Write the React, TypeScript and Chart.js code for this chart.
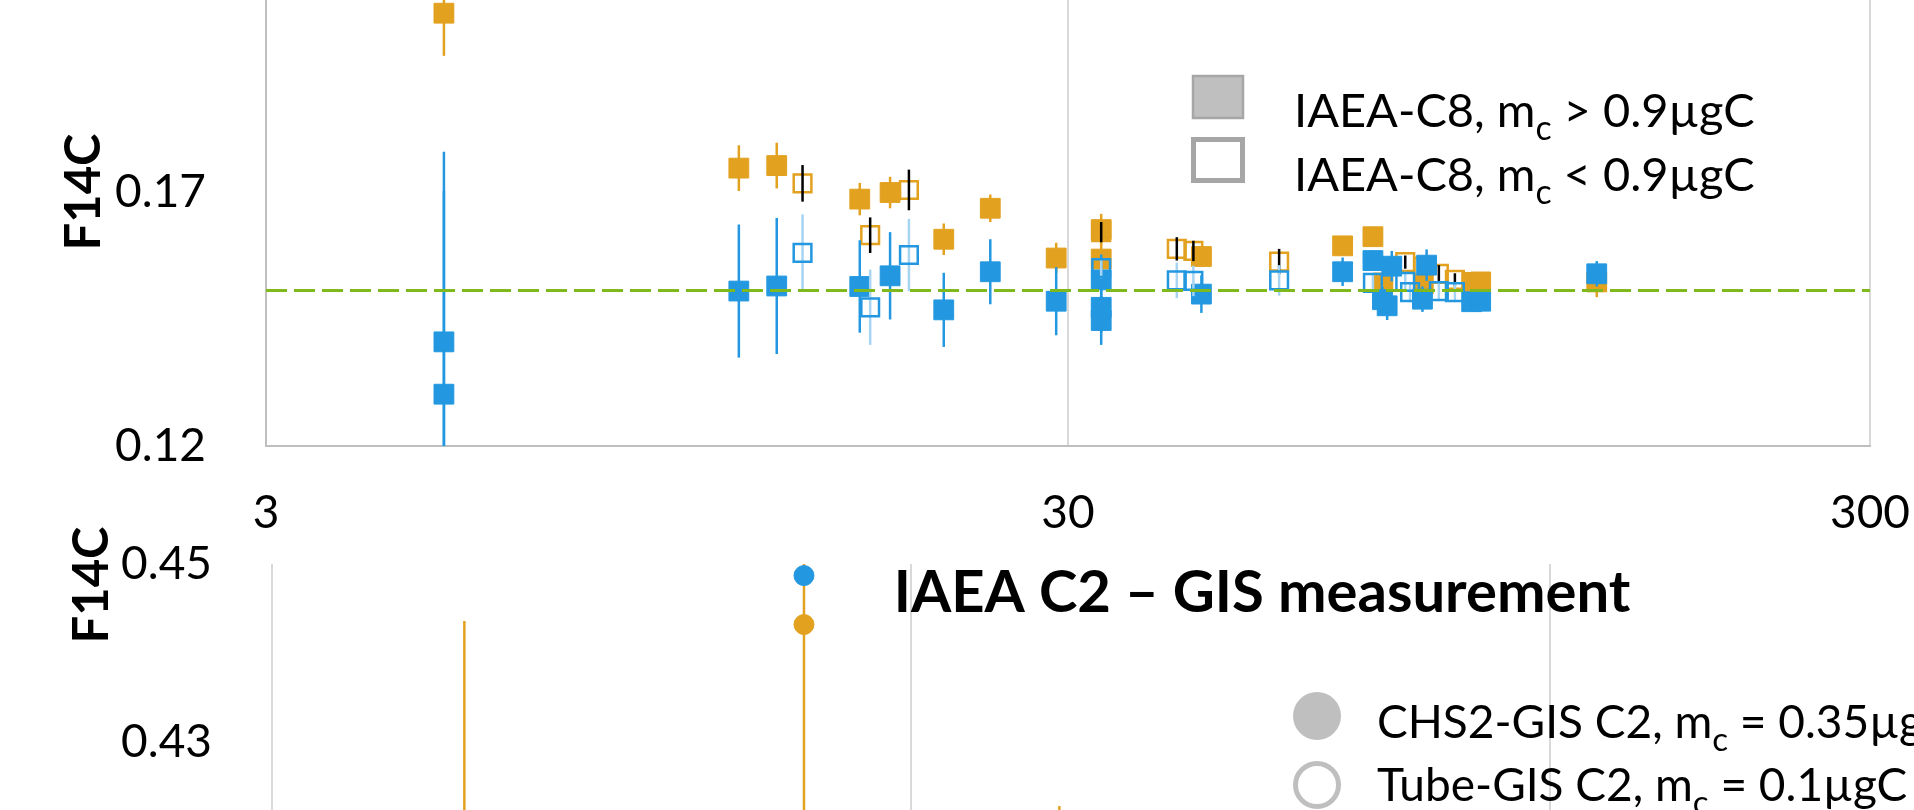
import React, { useEffect, useRef } from 'react';
import { Chart, registerables } from 'chart.js';

Chart.register(...registerables);

const FONT = 'Lato, "Open Sans", sans-serif';

// ---------------- Top panel: IAEA-C8 ----------------
const c8XTicks = [3, 30, 300];
const c8YTicks = [0.12, 0.17, 0.22];
const c8Reference = 0.1506;

const orangeFilledX = [5.0, 11.66, 13.0, 16.5, 18.0, 21.0, 24.0, 29.0, 33.0, 33.0, 44.0, 66.0, 72.0, 74.1, 83.2, 95.6, 98.1, 136.9];
const orangeFilledY = [0.2052, 0.1747, 0.1752, 0.1686, 0.1699, 0.1607, 0.1668, 0.157, 0.1626, 0.1568, 0.1573, 0.1594, 0.1612, 0.1521, 0.1519, 0.1522, 0.1523, 0.1523];
const orangeFilledErr = [0.0084, 0.0045, 0.0045, 0.0032, 0.0031, 0.0031, 0.0027, 0.003, 0.0031, 0.003, 0.002, 0.0015, 0.0015, 0.0015, 0.0015, 0.0012, 0.0012, 0.003];

const blueFilledX = [5.0, 5.0, 11.66, 13.0, 16.5, 18.0, 21.0, 24.0, 29.0, 33.0, 33.0, 33.0, 44.0, 66.0, 72.0, 74.0, 75.0, 76.0, 83.0, 84.0, 95.6, 98.1, 136.9];
const blueFilledY = [0.1405, 0.1302, 0.1505, 0.1515, 0.1514, 0.1535, 0.1468, 0.1543, 0.1485, 0.1527, 0.1473, 0.1447, 0.1499, 0.1543, 0.1565, 0.1488, 0.1476, 0.1554, 0.1489, 0.1556, 0.1484, 0.1485, 0.1539];
const blueFilledErr = [0.0374, 0.04, 0.0131, 0.0134, 0.0091, 0.0086, 0.0073, 0.0064, 0.0067, 0.005, 0.005, 0.0048, 0.0037, 0.0028, 0.002, 0.0025, 0.0028, 0.003, 0.0025, 0.0031, 0.0012, 0.0012, 0.0025];

const orangeOpenX = [14.0, 17.0, 19.0, 33.0, 41.0, 43.0, 55.0, 79.0, 83.2, 87.0, 91.1];
const orangeOpenY = [0.1717, 0.1615, 0.1704, 0.1621, 0.1588, 0.1584, 0.1563, 0.1562, 0.1553, 0.1539, 0.1527];
const orangeOpenErr = [0.0036, 0.0035, 0.004, 0.002, 0.0023, 0.002, 0.0025, 0.0013, 0.0015, 0.0017, 0.0013];

const blueOpenX = [14.0, 17.0, 19.0, 33.0, 41.0, 43.0, 55.0, 72.0, 79.0, 80.1, 87.0, 91.1];
const blueOpenY = [0.158, 0.1473, 0.1576, 0.155, 0.1526, 0.1525, 0.1526, 0.1521, 0.1523, 0.1503, 0.1505, 0.1503];
const blueOpenErr = [0.0076, 0.0074, 0.0071, 0.002, 0.0035, 0.003, 0.003, 0.002, 0.002, 0.002, 0.002, 0.002];

// ---------------- Bottom panel: IAEA C2 ----------------
const c2XTicks = [3, 30, 300, 3000];
const c2YTicks = [0.37, 0.39, 0.41, 0.43, 0.45];
const c2OrangeX = [6.0, 20.4, 51.2];
const c2OrangeY = [0.41, 0.4432, 0.41];
const c2OrangeErr = [0.0336, 0.03, 0.0128];
const c2BlueX = [20.4];
const c2BlueY = [0.4487];
const c2BlueErr = [0.0008];

const ORANGE = '#E2A11F';
const BLUE = '#2398E0';
const LIGHTBLUE = '#A6D4F2';
const GREEN = '#80B91E';

const pts = (xs: number[], ys: number[]) => xs.map((x, i) => ({ x, y: ys[i] }));

function drawErr(chart: any, index: number, phase: string) {
  const ds = chart.data.datasets[index];
  if (!ds.errors || (ds.errorLayer || 'before') !== phase) return;
  const xs = chart.scales.x;
  const ys = chart.scales.y;
  const ctx = chart.ctx as CanvasRenderingContext2D;
  const a = chart.chartArea;
  ctx.save();
  ctx.beginPath();
  ctx.rect(a.left, a.top, a.right - a.left, a.bottom - a.top);
  ctx.clip();
  ctx.strokeStyle = ds.errorColor;
  ctx.lineWidth = ds.errorWidth || 2.5;
  ds.data.forEach((p: any, i: number) => {
    const e = ds.errors[i];
    const px = xs.getPixelForValue(p.x);
    ctx.beginPath();
    ctx.moveTo(px, ys.getPixelForValue(p.y - e));
    ctx.lineTo(px, ys.getPixelForValue(p.y + e));
    ctx.stroke();
  });
  ctx.restore();
}

const errorBarPlugin = {
  id: 'errorBars',
  beforeDatasetDraw(chart: any, args: any) { drawErr(chart, args.index, 'before'); },
  afterDatasetDraw(chart: any, args: any) { drawErr(chart, args.index, 'after'); },
};

type Seg = { t: string; sub?: boolean };
function drawRich(ctx: CanvasRenderingContext2D, x: number, y: number, segs: Seg[], size: number) {
  let cx = x;
  ctx.textAlign = 'left';
  ctx.textBaseline = 'alphabetic';
  ctx.fillStyle = '#000';
  for (const s of segs) {
    const fs = s.sub ? size * 0.72 : size;
    ctx.font = `${fs}px ${FONT}`;
    ctx.fillText(s.t, cx, s.sub ? y + size * 0.28 : y);
    cx += ctx.measureText(s.t).width;
  }
}

const topLegendRows: Seg[][] = [
  [{ t: 'IAEA-C8, m' }, { t: 'c', sub: true }, { t: ' > 0.9µgC' }],
  [{ t: 'IAEA-C8, m' }, { t: 'c', sub: true }, { t: ' < 0.9µgC' }],
];
const botLegendRows: Seg[][] = [
  [{ t: 'CHS2-GIS C2, m' }, { t: 'c', sub: true }, { t: ' = 0.35µgC' }],
  [{ t: 'Tube-GIS C2, m' }, { t: 'c', sub: true }, { t: ' = 0.1µgC' }],
];
const c2Title = 'IAEA C2 – GIS measurement';

const topLegendPlugin = {
  id: 'topLegend',
  afterDraw(chart: any) {
    const ctx = chart.ctx as CanvasRenderingContext2D;
    ctx.save();
    ctx.fillStyle = '#BFBFBF';
    ctx.strokeStyle = '#A6A6A6';
    ctx.lineWidth = 2.5;
    ctx.fillRect(1192, 175, 52, 44);
    ctx.strokeRect(1193, 176, 50, 42);
    ctx.lineWidth = 5;
    ctx.strokeRect(1193.5, 239.5, 49, 41);
    drawRich(ctx, 1294, 227, topLegendRows[0], 47);
    drawRich(ctx, 1294, 291, topLegendRows[1], 47);
    ctx.restore();
  },
};

const botTextPlugin = {
  id: 'botText',
  afterDraw(chart: any) {
    const ctx = chart.ctx as CanvasRenderingContext2D;
    ctx.save();
    ctx.fillStyle = '#000';
    ctx.font = `bold 58px ${FONT}`;
    ctx.textAlign = 'center';
    ctx.textBaseline = 'alphabetic';
    ctx.fillText(c2Title, 1262, 132);
    ctx.save();
    ctx.translate(92, 105);
    ctx.rotate(-Math.PI / 2);
    ctx.font = `bold 49px ${FONT}`;
    ctx.textBaseline = 'middle';
    ctx.fillText('F14C', 0, 0);
    ctx.restore();
    ctx.fillStyle = '#BFBFBF';
    ctx.beginPath();
    ctx.arc(1317, 236, 24, 0, Math.PI * 2);
    ctx.fill();
    ctx.strokeStyle = '#BFBFBF';
    ctx.lineWidth = 5;
    ctx.beginPath();
    ctx.arc(1317, 305, 21.5, 0, Math.PI * 2);
    ctx.stroke();
    drawRich(ctx, 1377, 258, botLegendRows[0], 46);
    drawRich(ctx, 1377, 321, botLegendRows[1], 46);
    ctx.restore();
  },
};

const tickFont = { family: FONT, size: 46 };

const zeroPad = (s: any) => {
  s.paddingLeft = 0;
  s.paddingRight = 0;
  s.paddingTop = 0;
  s.paddingBottom = 0;
};

function topConfig(): any {
  return {
    type: 'scatter',
    data: {
      datasets: [
        {
          label: 'ref', type: 'line', data: [{ x: 3, y: c8Reference }, { x: 300, y: c8Reference }],
          borderColor: GREEN, borderWidth: 3, borderDash: [21, 7], pointRadius: 0, showLine: true, fill: false,
        },
        {
          label: 'blueOpen', data: pts(blueOpenX, blueOpenY), errors: blueOpenErr, errorColor: LIGHTBLUE, errorWidth: 2.5,
          pointStyle: 'rect', pointRadius: 12.5, backgroundColor: 'rgba(0,0,0,0)', borderColor: BLUE, borderWidth: 2.5,
        },
        {
          label: 'blueFilled', data: pts(blueFilledX, blueFilledY), errors: blueFilledErr, errorColor: BLUE, errorWidth: 2.5,
          pointStyle: 'rect', pointRadius: 14, backgroundColor: BLUE, borderColor: BLUE, borderWidth: 1,
        },
        {
          label: 'orangeOpen', data: pts(orangeOpenX, orangeOpenY), errors: orangeOpenErr, errorColor: '#000', errorWidth: 2.5, errorLayer: 'after',
          pointStyle: 'rect', pointRadius: 12.5, backgroundColor: 'rgba(0,0,0,0)', borderColor: ORANGE, borderWidth: 2.5,
        },
        {
          label: 'orangeFilled', data: pts(orangeFilledX, orangeFilledY), errors: orangeFilledErr, errorColor: ORANGE, errorWidth: 2.5,
          pointStyle: 'rect', pointRadius: 14, backgroundColor: ORANGE, borderColor: ORANGE, borderWidth: 1,
        },
      ],
    },
    options: {
      responsive: false,
      animation: false,
      events: [],
      layout: { padding: { top: 38, left: 0, right: 44, bottom: 0 } },
      plugins: { legend: { display: false }, tooltip: { enabled: false }, title: { display: false } },
      scales: {
        x: {
          type: 'logarithmic', min: 3, max: 300,
          afterBuildTicks: (s: any) => { s.ticks = c8XTicks.map((v) => ({ value: v })); },
          afterFit: (s: any) => { s.height = 100; zeroPad(s); },
          ticks: { padding: 40, font: tickFont, color: '#000', autoSkip: false, maxRotation: 0, callback: (v: any) => String(v) },
          grid: { display: true, color: '#D9D9D9', lineWidth: 2, drawTicks: false },
          border: { display: true, color: '#BFBFBF', width: 2 },
        },
        y: {
          type: 'linear', min: 0.12, max: 0.22,
          afterBuildTicks: (s: any) => { s.ticks = c8YTicks.map((v) => ({ value: v })); },
          afterFit: (s: any) => { s.width = 266; zeroPad(s); },
          ticks: { padding: 52, font: tickFont, color: '#000', callback: (v: any) => Number(v).toFixed(2) },
          grid: { display: false },
          border: { display: true, color: '#BFBFBF', width: 2 },
          title: { display: true, text: 'F14C', color: '#000', font: { family: FONT, size: 49, weight: 'bold' }, padding: { top: 55, bottom: 0 } },
        },
      },
    },
    plugins: [errorBarPlugin, topLegendPlugin],
  };
}

function botConfig(): any {
  return {
    type: 'scatter',
    data: {
      datasets: [
        {
          label: 'CHS2-GIS blue', data: pts(c2BlueX, c2BlueY), errors: c2BlueErr, errorColor: BLUE, errorWidth: 2.5,
          pointStyle: 'circle', pointRadius: 10, backgroundColor: BLUE, borderColor: BLUE, borderWidth: 1,
        },
        {
          label: 'CHS2-GIS orange', data: pts(c2OrangeX, c2OrangeY), errors: c2OrangeErr, errorColor: ORANGE, errorWidth: 2.5,
          pointStyle: 'circle', pointRadius: 10, backgroundColor: ORANGE, borderColor: ORANGE, borderWidth: 1,
        },
      ],
    },
    options: {
      responsive: false,
      animation: false,
      events: [],
      layout: { padding: { top: 84, left: 0, right: 60, bottom: 0 } },
      plugins: { legend: { display: false }, tooltip: { enabled: false }, title: { display: false } },
      scales: {
        x: {
          type: 'logarithmic', min: 3, max: 3000,
          afterBuildTicks: (s: any) => { s.ticks = c2XTicks.map((v) => ({ value: v })); },
          afterFit: (s: any) => { s.height = 90; zeroPad(s); },
          ticks: { padding: 40, font: tickFont, color: '#000', autoSkip: false, maxRotation: 0, callback: (v: any) => String(v) },
          grid: { display: true, color: '#D9D9D9', lineWidth: 2, drawTicks: false },
          border: { display: false },
        },
        y: {
          type: 'linear', min: 0.37, max: 0.45,
          afterBuildTicks: (s: any) => { s.ticks = c2YTicks.map((v) => ({ value: v })); },
          afterFit: (s: any) => { s.width = 272; zeroPad(s); },
          ticks: { padding: 52, font: tickFont, color: '#000', callback: (v: any) => Number(v).toFixed(2) },
          grid: { display: false },
          border: { display: false },
        },
      },
    },
    plugins: [errorBarPlugin, botTextPlugin],
  };
}

export default function App() {
  const topRef = useRef<HTMLCanvasElement>(null);
  const botRef = useRef<HTMLCanvasElement>(null);
  useEffect(() => {
    const top = new Chart(topRef.current as HTMLCanvasElement, topConfig());
    const bot = new Chart(botRef.current as HTMLCanvasElement, botConfig());
    return () => {
      top.destroy();
      bot.destroy();
    };
  }, []);
  return (
    <div style={{ position: 'fixed', left: 0, top: 0, width: 1914, height: 810, overflow: 'hidden', background: '#fff' }}>
      <canvas ref={topRef} width={1914} height={646} style={{ position: 'absolute', left: 0, top: -100 }} />
      <canvas ref={botRef} width={2249} height={886} style={{ position: 'absolute', left: 0, top: 480 }} />
    </div>
  );
}
